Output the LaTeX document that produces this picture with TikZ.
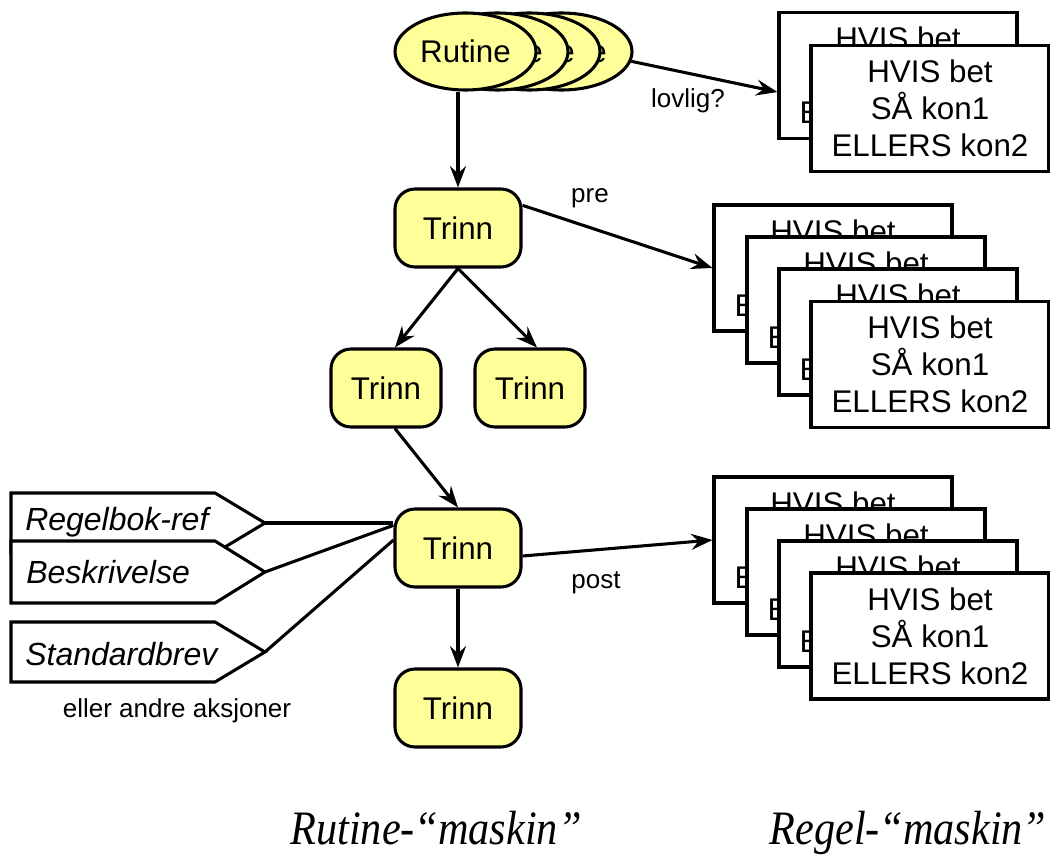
\documentclass[tikz,border=0pt]{standalone}
\usepackage{fontspec}
\setmainfont{Liberation Sans}
\newfontfamily\captionserif{Liberation Serif}
\usetikzlibrary{arrows.meta,shapes.geometric,calc}
\definecolor{stepyellow}{RGB}{255,255,153}

\begin{document}
\begin{tikzpicture}[x=0.75pt,y=-0.75pt,
  every node/.style={font=\fontsize{23.5}{27.75}\selectfont, inner sep=0pt},
  line/.style={line width=2.3pt},
  arr/.style={line, -{Stealth[length=16pt,width=12pt,inset=5.5pt]}},
  routine/.style={ellipse, draw, line width=2.3pt, fill=stepyellow,
    minimum width=105.75pt, minimum height=57.75pt},
  stepbox/.style={rectangle, rounded corners=15pt, draw, line width=2.3pt,
    fill=stepyellow, minimum width=94.5pt, minimum height=58.5pt},
  rulebox/.style={rectangle, draw, line width=2.3pt, fill=white,
    minimum width=178.5pt, minimum height=94.5pt, align=center},
  small/.style={font=\fontsize{19.5}{23}\selectfont},
  tag/.style={draw, line width=2.3pt, fill=white, line join=miter},
  tagtext/.style={anchor=base west, font=\fontsize{24}{28}\selectfont\itshape},
  caption/.style={anchor=base, xscale=0.88,
    font=\captionserif\itshape\fontsize{36}{40}\selectfont}
]
\useasboundingbox (0,0) rectangle (1050,856);

% stacked routine ellipses, back to front
\node[routine] (r4) at (561.5,51.5) {Rutine};
\node[routine] (r3) at (529.5,51.5) {Rutine};
\node[routine] (r2) at (497.5,51.5) {Rutine};
\node[routine] (r1) at (465.5,51.5) {Rutine};

% steps
\node[stepbox] (t1) at (458,228) {Trinn};
\node[stepbox, minimum width=82.5pt] (t2) at (386,388) {Trinn};
\node[stepbox, minimum width=82.5pt] (t3) at (530,388) {Trinn};
\node[stepbox] (t4) at (458,548) {Trinn};
\node[stepbox] (t5) at (458,708) {Trinn};

\draw[arr] (r1.south -| t1.north) -- (t1.north);
\draw[arr] (t1.south) -- ([xshift=6.75pt]t2.north);
\draw[arr] (t1.south) -- ([xshift=5.25pt]t3.north);
\draw[arr] ([xshift=6.75pt]t2.south) -- (t4.north);
\draw[arr] (t4.south) -- (t5.north);

% rule stacks
\node[rulebox] (s1a) at (898,75.5) {HVIS bet\\SÅ kon1\\ELLERS kon2};
\node[rulebox] (s1b) at (930,108.5) {HVIS bet\\SÅ kon1\\ELLERS kon2};

\node[rulebox] (s2a) at (833,268) {HVIS bet\\SÅ kon1\\ELLERS kon2};
\node[rulebox] (s2b) at (866,300) {HVIS bet\\SÅ kon1\\ELLERS kon2};
\node[rulebox] (s2c) at (898,332) {HVIS bet\\SÅ kon1\\ELLERS kon2};
\node[rulebox] (s2d) at (930,364.5) {HVIS bet\\SÅ kon1\\ELLERS kon2};

\node[rulebox] (s3a) at (833,540) {HVIS bet\\SÅ kon1\\ELLERS kon2};
\node[rulebox] (s3b) at (866,572) {HVIS bet\\SÅ kon1\\ELLERS kon2};
\node[rulebox] (s3c) at (898,604) {HVIS bet\\SÅ kon1\\ELLERS kon2};
\node[rulebox] (s3d) at (930,636) {HVIS bet\\SÅ kon1\\ELLERS kon2};

\draw[arr] (r4.-8) -- ([yshift=-12.4pt]s1a.west);
\node[small] (lovlig) at (688,101) {lovlig?};
\draw[arr] ([yshift=17pt]t1.east) -- (s2a.west);
\node[small] (pre) at (590,198) {pre};
\draw[arr] ([yshift=-6pt]t4.east) -- (s3a.west);
\node[small] (post) at (596,583) {post};

% action tags
\draw[tag] (11,493) -- (215,493) -- (265,523) coordinate (g1) -- (215,553) -- (11,553) -- cycle;
\draw[tag] (11,541) -- (215,541) -- (265,572) coordinate (g2) -- (215,603) -- (11,603) -- cycle;
\draw[tag] (11,622) -- (215,622) -- (265,652) coordinate (g3) -- (215,682) -- (11,682) -- cycle;
\node[tagtext] (n1) at (25,530) {Regelbok-ref};
\node[tagtext] (n2) at (26,583) {Beskrivelse};
\node[tagtext] (n3) at (25,665) {Standardbrev};
\node[small] (other) at (177,711) {eller andre aksjoner};

\draw[line] (g1) -- ([yshift=18.75pt]t4.west);
\draw[line] (g2) -- ([yshift=17pt]t4.west);
\draw[line] (g3) -- ([yshift=6pt]t4.west);

% captions
\node[caption] (capA) at (436,844) {Rutine-“maskin”};
\node[caption] (capB) at (908,844) {Regel-“maskin”};
\end{tikzpicture}
\end{document}
